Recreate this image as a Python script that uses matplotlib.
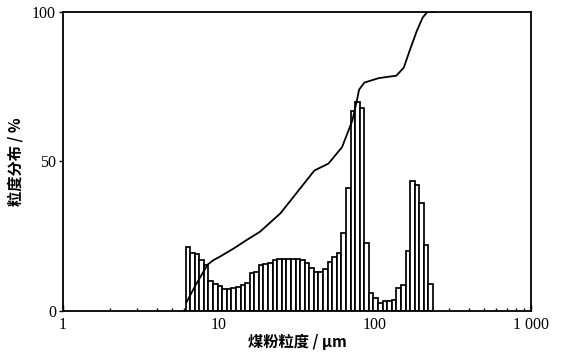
import numpy as np
import matplotlib
matplotlib.use("Agg")
import matplotlib.pyplot as plt
from matplotlib.ticker import FixedLocator, LogLocator, NullFormatter

# particle size bins (bin centre, um) and volume fraction per bin
bin_center = [6.31, 6.75, 7.22, 7.73, 8.27, 8.85, 9.47, 10.13, 10.84, 11.60,
              12.41, 13.28, 14.21, 15.21, 16.27, 17.41, 18.63, 19.93, 21.33, 22.82,
              24.42, 26.12, 27.95, 29.91, 32.00, 34.24, 36.64, 39.20, 41.95, 44.88,
              48.02, 51.39, 54.98, 58.83, 62.95, 67.35, 72.07, 77.11, 82.51, 88.28,
              94.46, 101.1, 108.1, 115.7, 123.8, 132.5, 141.7, 151.7, 162.3, 173.7,
              185.8, 198.8, 212.7, 227.6]
fraction = [21.5, 19.5, 19.0, 17.0, 15.5, 10.0, 9.0, 8.3, 7.5, 7.2,
            7.6, 8.1, 8.7, 9.2, 12.8, 13.1, 15.3, 15.6, 16.2, 17.0,
            17.3, 17.5, 17.5, 17.5, 17.3, 17.0, 16.0, 14.5, 13.2, 13.0,
            14.0, 16.5, 18.1, 19.3, 26.0, 41.0, 67.0, 70.0, 68.0, 22.6,
            5.9, 4.2, 2.6, 3.2, 3.4, 3.7, 7.8, 8.7, 20.0, 43.4,
            42.0, 36.0, 22.0, 9.0]

# cumulative distribution
cum_size = [6.2, 7.14, 8.45, 9.2, 10.0, 12.5, 15.0, 18.3, 24.8, 37.2, 40.9, 50.3,
            61.5, 71.6, 77.3, 79.0, 85.5, 106.0, 137.0, 153.0, 166.6, 185.5,
            202.0, 216.0, 240.0]
cum_value = [3.0, 9.0, 15.5, 17.0, 18.0, 21.0, 23.7, 26.5, 32.7, 44.3, 47.0, 49.3,
             54.8, 63.7, 71.4, 74.0, 76.4, 77.9, 78.7, 81.4, 87.0, 93.7,
             98.1, 100.0, 100.0]

x_ticks = [1, 10, 100, 1000]
x_ticklabels = ["1", "10", "100", "1 000"]
y_ticks = [0, 50, 100]

cjk = ["Noto Sans CJK SC", "DejaVu Sans"]
num_font = "Liberation Serif"

c = np.array(bin_center)
inner = np.sqrt(c[:-1] * c[1:])
edges = np.concatenate([[c[0] ** 2 / inner[0]], inner, [c[-1] ** 2 / inner[-1]]])

fig = plt.figure(figsize=(5.69, 3.56), dpi=100)
ax = fig.add_axes([0.1107, 0.1264, 0.8225, 0.8399])

ax.bar(edges[:-1], fraction, width=np.diff(edges), align="edge",
       facecolor="white", edgecolor="black", linewidth=1.25, zorder=2)
ax.plot(cum_size, cum_value, color="black", linewidth=1.3, zorder=3)

ax.set_xscale("log")
ax.set_xlim(1, 1000)
ax.set_ylim(0, 100)

ax.xaxis.set_major_locator(FixedLocator(x_ticks))
ax.set_xticklabels(x_ticklabels, fontfamily=num_font, fontsize=11.5)
ax.xaxis.set_minor_locator(LogLocator(base=10, subs=np.arange(2, 10)))
ax.xaxis.set_minor_formatter(NullFormatter())
ax.tick_params(axis="x", which="major", direction="in", length=4, width=1, pad=4)
ax.tick_params(axis="x", which="minor", direction="in", length=2.5, width=1)

ax.set_yticks(y_ticks)
ax.set_yticklabels([str(v) for v in y_ticks], fontfamily=num_font, fontsize=11.5)
ax.tick_params(axis="y", direction="out", length=3, width=1, pad=2)

for s in ax.spines.values():
    s.set_linewidth(1.3)

ax.set_xlabel("煤粉粒度 / μm", family=cjk, fontsize=11, fontweight="bold", labelpad=1)
ax.set_ylabel("粒度分布 / %", family=cjk, fontsize=11, fontweight="bold", labelpad=6)

fig.savefig("out.png", dpi=100)
